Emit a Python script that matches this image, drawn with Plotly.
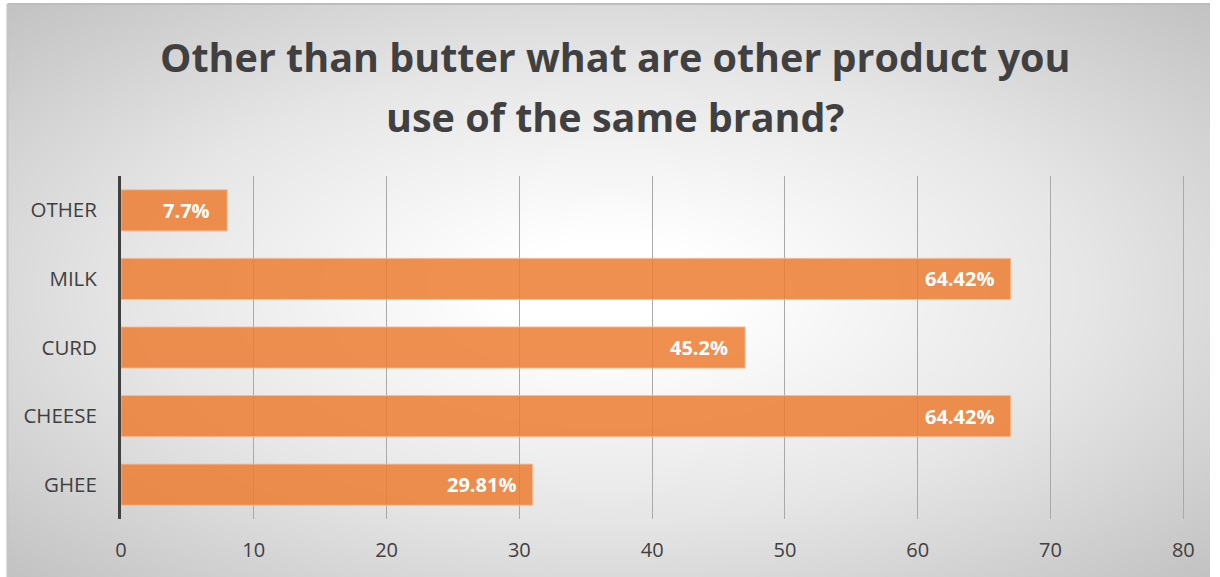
import numpy as np
import plotly.graph_objects as go

categories = ["GHEE", "CHEESE", "CURD", "MILK", "OTHER"]
counts = [31, 67, 47, 67, 8]
labels = ["29.81%", "64.42%", "45.2%", "64.42%", "7.7%"]
x_ticks = [0, 10, 20, 30, 40, 50, 60, 70, 80]
title_line1 = "Other than butter what are other product you"
title_line2 = "use of the same brand?"

W, H = 1220, 577

# background radial gradient (decoration only)
nx, ny = 160, 80
gx = np.linspace(-1, 1, nx)
gy = np.linspace(-1, 1, ny)
XX, YY = np.meshgrid(gx, gy)
D = np.sqrt(XX**2 + YY**2) / np.sqrt(2)
Z = np.clip((D - 0.12) / 0.88, 0, 1)

fig = go.Figure()
fig.add_trace(go.Heatmap(
    x=gx, y=gy, z=Z, zmin=0, zmax=1, zsmooth="best", showscale=False,
    colorscale=[[0, "#ffffff"], [0.5, "#e6e6e6"], [1, "#c2c2c2"]],
    hoverinfo="skip", xaxis="x", yaxis="y"))

fig.add_trace(go.Bar(
    y=categories, x=counts, orientation="h",
    marker=dict(color="rgba(237,125,49,0.85)", line=dict(color="rgba(248,190,150,0.9)", width=1)),
    width=0.6, xaxis="x2", yaxis="y2", hoverinfo="skip"))

annotations = []
for cat, c, lab in zip(categories, counts, labels):
    annotations.append(dict(x=c, y=cat, xref="x2", yref="y2", text="<b>" + lab + "</b>",
                            showarrow=False, xanchor="right", yanchor="middle", xshift=-15,
                            font=dict(family="Open Sans", size=20, color="white")))

annotations.append(dict(text="<b>" + title_line1 + "</b>", x=617.5 / W, y=1 - 57 / H,
                        xref="paper", yref="paper", showarrow=False,
                        xanchor="center", yanchor="middle",
                        font=dict(family="Open Sans", size=39.5, color="#404040")))
annotations.append(dict(text="<b>" + title_line2 + "</b>", x=617.5 / W, y=1 - 117 / H,
                        xref="paper", yref="paper", showarrow=False,
                        xanchor="center", yanchor="middle",
                        font=dict(family="Open Sans", size=39.5, color="#404040")))

x0 = 116.5 / W
x1 = 1194.35 / W
y0 = 1 - 519 / H
y1 = 1 - 176 / H

fig.update_layout(
    width=W, height=H,
    margin=dict(l=0, r=0, t=0, b=0),
    paper_bgcolor="white", plot_bgcolor="rgba(0,0,0,0)",
    showlegend=False,
    xaxis=dict(domain=[1.5 / W, 1], range=[-1, 1], visible=False, fixedrange=True),
    yaxis=dict(domain=[0, 1 - 4 / H], range=[-1, 1], visible=False, fixedrange=True),
    xaxis2=dict(domain=[x0, x1], range=[0, 80.1], tickvals=x_ticks, anchor="y2",
                showgrid=True, gridcolor="#a9a9a9", gridwidth=1, zeroline=False,
                showline=False, ticks="", ticklabelstandoff=17,
                tickfont=dict(family="Open Sans", size=20, color="#404040")),
    yaxis2=dict(domain=[y0, y1], anchor="x2", showgrid=False, zeroline=False,
                showline=True, linecolor="#404040", linewidth=3,
                ticks="", ticklabelstandoff=17, range=[-0.5, 4.5],
                tickfont=dict(family="Open Sans", size=20.5, color="#404040")),
    annotations=annotations,
    shapes=[
        dict(type="line", xref="paper", yref="paper", x0=1.5 / W, x1=1, y0=1 - 4 / H, y1=1 - 4 / H,
             line=dict(color="#bdbdbd", width=2), layer="above"),
        dict(type="line", xref="paper", yref="paper", x0=1.5 / W, x1=1.5 / W, y0=0, y1=1 - 4 / H,
             line=dict(color="#c4c4c4", width=2), layer="above"),
    ],
)

fig.write_html("out.html")
